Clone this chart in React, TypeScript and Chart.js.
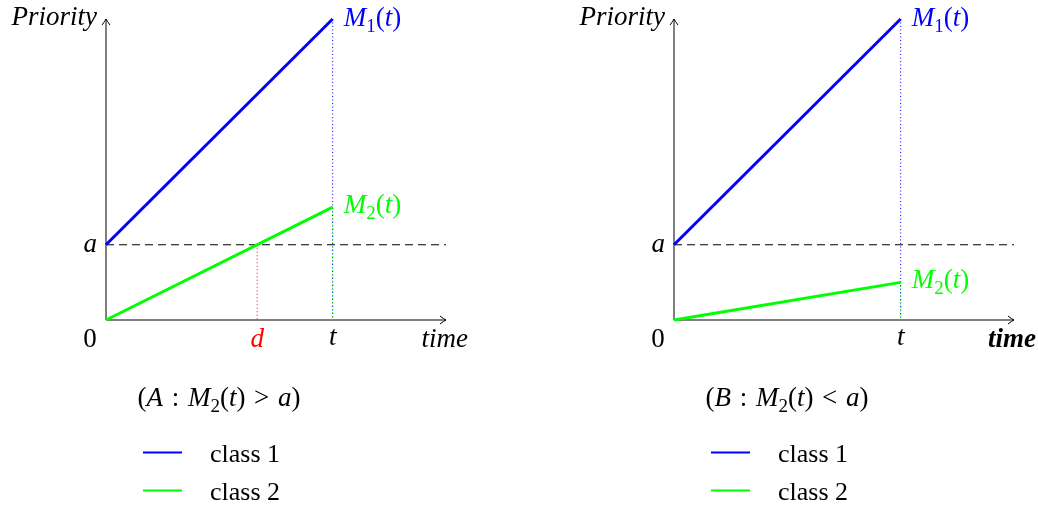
import { useEffect, useRef } from 'react';
import { Chart, registerables } from 'chart.js';

Chart.register(...registerables);

const SERIF = '"Liberation Serif", "Times New Roman", serif';
const BLUE = '#0000ff';
const GREEN = '#00ff00';
const RED = '#ff0000';
const BASE = 27;
const LEGEND_SIZE = 26;

// Time instants at which each priority function is sampled (0 and t)
const sampleTimes = [0, 10];
const timeAxisMax = 15;
const priorityAxisMax = 4;
const thresholdA = 1; // level "a"

// Case A: class 2 crosses the threshold at time d
const class1A = [1, 4];
const class2A = [0, 1.5];
const crossingA = 6.67;

// Case B: class 2 stays below the threshold
const class1B = [1, 4];
const class2B = [0, 0.5];

const seriesLabels = ['class 1', 'class 2'];
const seriesColors = [BLUE, GREEN];

// rich text pieces: r = roman, i = italic, s = subscript, b = bold italic, g = extra gap (px)
type Seg = [string, 'r' | 'i' | 's' | 'b' | 'g'];

const captionA: Seg[] = [['(', 'r'], ['A', 'i'], ['2', 'g'], [' : ', 'r'], ['2', 'g'], ['M', 'i'], ['2', 's'], ['(', 'r'], ['t', 'i'], [')', 'r'], ['2', 'g'], [' > ', 'r'], ['2', 'g'], ['a', 'i'], [')', 'r']];
const captionB: Seg[] = [['(', 'r'], ['B', 'i'], ['2', 'g'], [' : ', 'r'], ['2', 'g'], ['M', 'i'], ['2', 's'], ['(', 'r'], ['t', 'i'], [')', 'r'], ['2', 'g'], [' < ', 'r'], ['2', 'g'], ['a', 'i'], [')', 'r']];
const m1Label: Seg[] = [['M', 'i'], ['1', 's'], ['(', 'r'], ['t', 'i'], [')', 'r']];
const m2Label: Seg[] = [['M', 'i'], ['2', 's'], ['(', 'r'], ['t', 'i'], [')', 'r']];

function segFont(style: string, size: number) {
  if (style === 's') return `${Math.round(size * 0.72)}px ${SERIF}`;
  if (style === 'i') return `italic ${size}px ${SERIF}`;
  if (style === 'b') return `italic bold ${size}px ${SERIF}`;
  return `${size}px ${SERIF}`;
}

function segWidth(ctx: CanvasRenderingContext2D, seg: Seg, size: number) {
  if (seg[1] === 'g') return Number(seg[0]);
  ctx.font = segFont(seg[1], size);
  return ctx.measureText(seg[0]).width;
}

function drawRich(
  ctx: CanvasRenderingContext2D, segs: Seg[], x: number, y: number,
  align: 'left' | 'center' | 'right', color: string, size = BASE,
) {
  ctx.save();
  ctx.textAlign = 'left';
  ctx.textBaseline = 'alphabetic';
  ctx.fillStyle = color;
  let w = 0;
  for (const s of segs) w += segWidth(ctx, s, size);
  let cx = align === 'left' ? x : align === 'center' ? x - w / 2 : x - w;
  for (const s of segs) {
    const sw = segWidth(ctx, s, size);
    if (s[1] !== 'g') {
      ctx.font = segFont(s[1], size);
      ctx.fillText(s[0], cx, y + (s[1] === 's' ? 6 : 0));
    }
    cx += sw;
  }
  ctx.restore();
}

type Panel = {
  class1: number[];
  class2: number[];
  crossing: number | null;
  caption: Seg[];
  boldTime: boolean;
};

const panels: Panel[] = [
  { class1: class1A, class2: class2A, crossing: crossingA, caption: captionA, boldTime: false },
  { class1: class1B, class2: class2B, crossing: null, caption: captionB, boldTime: true },
];

function pts(xs: number[], ys: number[]) {
  return xs.map((x, i) => ({ x, y: ys[i] }));
}

function PanelChart({ panel, left }: { panel: Panel; left: number }) {
  const ref = useRef<HTMLCanvasElement>(null);

  useEffect(() => {
    const canvas = ref.current;
    if (!canvas) return;
    const tEnd = sampleTimes[1];
    const datasets: any[] = [
      {
        label: seriesLabels[0], data: pts(sampleTimes, panel.class1), borderColor: seriesColors[0],
        borderWidth: 3, pointRadius: 0, clip: false, order: 0, inLegend: true,
      },
      {
        label: seriesLabels[1], data: pts(sampleTimes, panel.class2), borderColor: seriesColors[1],
        borderWidth: 3, pointRadius: 0, clip: false, order: 1, inLegend: true,
      },
      {
        label: 'a', data: [{ x: 0, y: thresholdA }, { x: timeAxisMax, y: thresholdA }], borderColor: '#000',
        borderWidth: 1, borderDash: [8, 5], pointRadius: 0, clip: false, order: 5,
      },
      {
        label: 'M1 drop', data: [{ x: tEnd, y: panel.class1[1] }, { x: tEnd, y: 0 }], borderColor: BLUE,
        borderWidth: 1, borderDash: [1, 2.5], pointRadius: 0, clip: false, order: 4,
      },
      {
        label: 'M2 drop', data: [{ x: tEnd, y: panel.class2[1] }, { x: tEnd, y: 0 }], borderColor: GREEN,
        borderWidth: 1, borderDash: [1, 2.5], pointRadius: 0, clip: false, order: 3,
      },
    ];
    if (panel.crossing !== null) {
      datasets.push({
        label: 'd drop', data: [{ x: panel.crossing, y: thresholdA }, { x: panel.crossing, y: 0 }], borderColor: RED,
        borderWidth: 1, borderDash: [1, 2.5], pointRadius: 0, clip: false, order: 3,
      });
    }

    const decor = {
      id: 'decor',
      beforeDatasetsDraw(chart: any) {
        const ctx: CanvasRenderingContext2D = chart.ctx;
        const xs = chart.scales.x, ys = chart.scales.y;
        const x0 = xs.getPixelForValue(0), y0 = ys.getPixelForValue(0);
        const xm = xs.getPixelForValue(timeAxisMax), ym = ys.getPixelForValue(priorityAxisMax);
        ctx.save();
        ctx.strokeStyle = '#000';
        ctx.lineWidth = 1;
        ctx.beginPath();
        ctx.moveTo(x0, y0); ctx.lineTo(xm, y0);
        ctx.moveTo(x0, y0); ctx.lineTo(x0, ym);
        // arrow heads
        ctx.moveTo(xm - 6, y0 - 4); ctx.quadraticCurveTo(xm - 2, y0 - 1, xm, y0); ctx.quadraticCurveTo(xm - 2, y0 + 1, xm - 6, y0 + 4);
        ctx.moveTo(x0 - 4, ym + 6); ctx.quadraticCurveTo(x0 - 1, ym + 2, x0, ym); ctx.quadraticCurveTo(x0 + 1, ym + 2, x0 + 4, ym + 6);
        ctx.stroke();
        ctx.restore();
      },
      afterDraw(chart: any) {
        const ctx: CanvasRenderingContext2D = chart.ctx;
        const xs = chart.scales.x, ys = chart.scales.y;
        const x0 = xs.getPixelForValue(0), y0 = ys.getPixelForValue(0);
        const xm = xs.getPixelForValue(timeAxisMax), ym = ys.getPixelForValue(priorityAxisMax);
        const xt = xs.getPixelForValue(tEnd);
        const ya = ys.getPixelForValue(thresholdA);

        drawRich(ctx, [['Priority', 'i']], x0 - 9, ym + 6, 'right', '#000');
        drawRich(ctx, [['a', 'i']], x0 - 9, ya + 7, 'right', '#000');
        drawRich(ctx, [['0', 'r']], x0 - 16, y0 + 27, 'center', '#000');
        drawRich(ctx, [['t', 'i']], xt, y0 + 25, 'center', '#000');
        if (panel.crossing !== null) {
          drawRich(ctx, [['d', 'i']], xs.getPixelForValue(panel.crossing), y0 + 27, 'center', RED);
        }
        drawRich(ctx, [['time', panel.boldTime ? 'b' : 'i']], xm + 22, y0 + 27, 'right', '#000');
        drawRich(ctx, m1Label, xt + 11, ys.getPixelForValue(panel.class1[1]) + 7, 'left', BLUE);
        drawRich(ctx, m2Label, xt + 11, ys.getPixelForValue(panel.class2[1]) + 6, 'left', GREEN);

        drawRich(ctx, panel.caption, x0 + 113, 406, 'center', '#000');

        // legend
        const items = chart.data.datasets.filter((d: any) => d.inLegend);
        items.forEach((d: any, i: number) => {
          const ly = 452.5 + i * 38;
          ctx.save();
          ctx.strokeStyle = d.borderColor;
          ctx.lineWidth = 2;
          ctx.beginPath();
          ctx.moveTo(x0 + 37, ly); ctx.lineTo(x0 + 76, ly);
          ctx.stroke();
          ctx.restore();
          drawRich(ctx, [[d.label, 'r']], x0 + 104, ly + 9, 'left', '#000', LEGEND_SIZE);
        });
      },
    };

    const chart = new Chart(canvas, {
      type: 'line',
      data: { datasets },
      options: {
        animation: false,
        responsive: false,
        events: [],
        layout: { padding: { left: 106, right: 24, top: 19, bottom: 186 } },
        plugins: { legend: { display: false }, tooltip: { enabled: false } },
        scales: {
          x: { type: 'linear', min: 0, max: timeAxisMax, display: false },
          y: { type: 'linear', min: 0, max: priorityAxisMax, display: false },
        },
      },
      plugins: [decor],
    });
    return () => chart.destroy();
  }, [panel]);

  return (
    <canvas
      ref={ref}
      width={470}
      height={506}
      style={{ position: 'absolute', left, top: 0, width: 470, height: 506 }}
    />
  );
}

export default function App() {
  return (
    <div style={{ position: 'fixed', left: 0, top: 0, width: 1038, height: 506, background: '#fff' }}>
      <PanelChart panel={panels[0]} left={0} />
      <PanelChart panel={panels[1]} left={568} />
    </div>
  );
}
